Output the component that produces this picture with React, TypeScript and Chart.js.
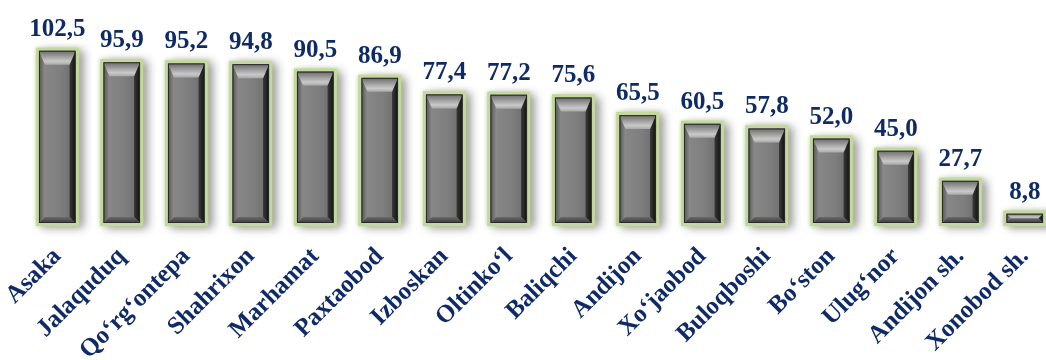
import React, { useEffect, useRef } from "react";
import { Chart, registerables } from "chart.js";

Chart.register(...registerables);

const categories = [
  "Asaka",
  "Jalaquduq",
  "Qo‘rg‘ontepa",
  "Shahrixon",
  "Marhamat",
  "Paxtaobod",
  "Izboskan",
  "Oltinko‘l",
  "Baliqchi",
  "Andijon",
  "Xo‘jaobod",
  "Buloqboshi",
  "Bo‘ston",
  "Ulug‘nor",
  "Andijon sh.",
  "Xonobod sh.",
];

const values = [102.5, 95.9, 95.2, 94.8, 90.5, 86.9, 77.4, 77.2, 75.6, 65.5, 60.5, 57.8, 52.0, 45.0, 27.7, 8.8];

const NAVY = "#0f2b67";
const SERIF = "'Liberation Serif', 'Times New Roman', serif";

const bevelPlugin = {
  id: "bevelBars",
  afterDatasetsDraw(chart: any) {
    const ctx = chart.ctx as CanvasRenderingContext2D;
    const meta = chart.getDatasetMeta(0);
    meta.data.forEach((bar: any, i: number) => {
      const p = bar.getProps(["x", "y", "base", "width"], true);
      const x0 = p.x - p.width / 2;
      const x1 = p.x + p.width / 2;
      const y0 = p.y;
      const y1 = p.base;
      const h = y1 - y0;
      ctx.save();
      ctx.shadowColor = "rgba(0,0,0,0.45)";
      ctx.shadowBlur = 9;
      ctx.shadowOffsetX = 5;
      ctx.shadowOffsetY = 2;
      ctx.fillStyle = "#c4d89e";
      ctx.fillRect(x0, y0, x1 - x0, h);
      ctx.restore();
      ctx.save();
      ctx.shadowColor = "rgba(196,216,158,0.9)";
      ctx.shadowBlur = 4;
      ctx.fillStyle = "#c4d89e";
      ctx.fillRect(x0, y0, x1 - x0, h);
      ctx.restore();

      const bw = 3;
      const ix0 = x0 + bw;
      const ix1 = x1 - bw;
      const iy0 = y0 + bw;
      const iy1 = y1 - bw;
      const ih = iy1 - iy0;
      const iw = ix1 - ix0;
      const bt = Math.min(14, ih / 2);
      const bs = Math.min(6, ih / 2, iw / 4);
      const bb = Math.min(6, ih / 2);

      ctx.save();
      const faceG = ctx.createLinearGradient(ix0, 0, ix1, 0);
      faceG.addColorStop(0, "#8a8a8a");
      faceG.addColorStop(0.6, "#7e7e7e");
      faceG.addColorStop(1, "#6a6a6a");
      ctx.fillStyle = faceG;
      ctx.fillRect(ix0, iy0, iw, ih);

      const lg = ctx.createLinearGradient(ix0, 0, ix0 + bs, 0);
      lg.addColorStop(0, "#555");
      lg.addColorStop(1, "#8c8c8c");
      ctx.fillStyle = lg;
      ctx.beginPath();
      ctx.moveTo(ix0, iy0);
      ctx.lineTo(ix0 + bs, iy0 + bt);
      ctx.lineTo(ix0 + bs, iy1 - bb);
      ctx.lineTo(ix0, iy1);
      ctx.closePath();
      ctx.fill();

      const rg = ctx.createLinearGradient(ix1 - bs, 0, ix1, 0);
      rg.addColorStop(0, "#3a3a3a");
      rg.addColorStop(1, "#111");
      ctx.fillStyle = rg;
      ctx.beginPath();
      ctx.moveTo(ix1, iy0);
      ctx.lineTo(ix1 - bs, iy0 + bt);
      ctx.lineTo(ix1 - bs, iy1 - bb);
      ctx.lineTo(ix1, iy1);
      ctx.closePath();
      ctx.fill();

      const bg = ctx.createLinearGradient(0, iy1 - bb, 0, iy1);
      bg.addColorStop(0, "#6a6a6a");
      bg.addColorStop(1, "#3a3a3a");
      ctx.fillStyle = bg;
      ctx.beginPath();
      ctx.moveTo(ix0, iy1);
      ctx.lineTo(ix0 + bs, iy1 - bb);
      ctx.lineTo(ix1 - bs, iy1 - bb);
      ctx.lineTo(ix1, iy1);
      ctx.closePath();
      ctx.fill();

      const tg = ctx.createLinearGradient(0, iy0, 0, iy0 + bt);
      tg.addColorStop(0, "#6a6a6a");
      tg.addColorStop(0.75, "#c9c9c9");
      tg.addColorStop(1, "#a8a8a8");
      ctx.fillStyle = tg;
      ctx.beginPath();
      ctx.moveTo(ix0, iy0);
      ctx.lineTo(ix1, iy0);
      ctx.lineTo(ix1 - bs, iy0 + bt);
      ctx.lineTo(ix0 + bs, iy0 + bt);
      ctx.closePath();
      ctx.fill();

      ctx.strokeStyle = "#2a2a2a";
      ctx.lineWidth = 1;
      ctx.strokeRect(ix0 + 0.5, iy0 + 0.5, iw - 1, ih - 1);
      ctx.restore();

      ctx.save();
      ctx.fillStyle = NAVY;
      ctx.font = `bold 25px ${SERIF}`;
      ctx.textAlign = "center";
      ctx.textBaseline = "bottom";
      const txt = values[i].toFixed(1).replace(".", ",");
      ctx.fillText(txt, p.x, y0 - 6);
      ctx.restore();
    });
  },
};

export default function App() {
  const ref = useRef<HTMLCanvasElement | null>(null);

  useEffect(() => {
    if (!ref.current) return;
    const chart = new Chart(ref.current, {
      type: "bar",
      data: {
        labels: categories,
        datasets: [
          {
            data: values,
            backgroundColor: "rgba(0,0,0,0)",
            borderWidth: 0,
            categoryPercentage: 1,
            barPercentage: 0.66,
          },
        ],
      },
      options: {
        responsive: false,
        animation: false,
        layout: { padding: { top: 26, left: 25, right: 0, bottom: 0 } },
        plugins: { legend: { display: false }, tooltip: { enabled: false } },
        scales: {
          x: {
            grid: { display: false, drawTicks: false },
            border: { display: false },
            ticks: {
              color: NAVY,
              font: { family: SERIF, size: 25, weight: "bold" },
              maxRotation: 45,
              minRotation: 45,
              autoSkip: false,
              padding: 16,
            },
            afterFit: (scale: any) => {
              scale.height = 134;
              scale.paddingLeft = 0;
              scale.paddingRight = 0;
            },
          },
          y: {
            display: false,
            min: 0,
            max: 115,
          },
        },
      },
      plugins: [bevelPlugin],
    });
    return () => chart.destroy();
  }, []);

  return (
    <div
      style={{
        position: "fixed",
        left: 0,
        top: 0,
        width: 1046,
        height: 360,
        overflow: "hidden",
        background: "#fff",
      }}
    >
      <canvas ref={ref} width={1057} height={360} style={{ display: "block" }} />
    </div>
  );
}
